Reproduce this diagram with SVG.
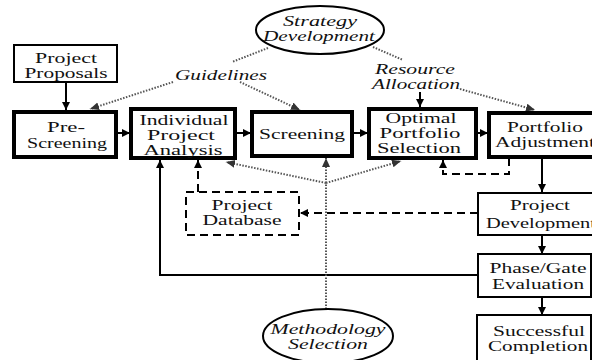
<svg xmlns="http://www.w3.org/2000/svg" width="592" height="360" viewBox="0 0 592 360">
<defs>
<marker id="ah" markerUnits="userSpaceOnUse" markerWidth="9" markerHeight="9" refX="8" refY="4" orient="auto"><path d="M0,0 L8,4 L0,8 z" fill="#000"/></marker>
<marker id="ahd" markerUnits="userSpaceOnUse" markerWidth="10" markerHeight="10" refX="9" refY="4" orient="auto"><path d="M0,0 L9,4 L0,8 z" fill="#333"/></marker>
<style>
text{font-family:"Liberation Serif","Times New Roman",serif;font-size:15px;fill:#111;text-anchor:middle}
.it{font-style:italic}
.st{text-anchor:start}
.box{fill:#fff;stroke:#000;stroke-width:2}
.main{fill:#fff;stroke:#000;stroke-width:4}
.dbox{fill:#fff;stroke:#000;stroke-width:2;stroke-dasharray:8 5}
.ell{fill:#fff;stroke:#000;stroke-width:2}
.sol{fill:none;stroke:#000;stroke-width:2}
.dsh{fill:none;stroke:#000;stroke-width:2;stroke-dasharray:8 5}
.dot{fill:none;stroke:#555;stroke-width:2;stroke-dasharray:1.5 1.5}
</style>
</defs>
<rect width="592" height="360" fill="#fff"/>

<g id="connectors">
<line class="sol" x1="66" y1="83" x2="66" y2="110" marker-end="url(#ah)"/>
<line class="sol" x1="117" y1="133" x2="130" y2="133" marker-end="url(#ah)"/>
<line class="sol" x1="235" y1="133" x2="251" y2="133" marker-end="url(#ah)"/>
<line class="sol" x1="353" y1="133" x2="368" y2="133" marker-end="url(#ah)"/>
<line class="sol" x1="476" y1="133" x2="488" y2="133" marker-end="url(#ah)"/>
<line class="sol" x1="542" y1="158" x2="542" y2="192" marker-end="url(#ah)"/>
<line class="sol" x1="542" y1="235" x2="542" y2="254" marker-end="url(#ah)"/>
<line class="sol" x1="542" y1="297" x2="542" y2="315" marker-end="url(#ah)"/>
<polyline class="sol" points="478,275 160,275 160,160" marker-end="url(#ah)"/>
<line class="sol" x1="420" y1="92" x2="420" y2="107" marker-end="url(#ah)"/>
<polyline class="dsh" points="509,158 509,174 443,174 443,160" marker-end="url(#ah)"/>
<line class="dsh" x1="478" y1="213" x2="300" y2="213" marker-end="url(#ah)"/>
<line class="dsh" x1="198" y1="192" x2="198" y2="160" marker-end="url(#ah)"/>
<line class="dot" x1="268" y1="48" x2="232" y2="62"/>
<line class="dot" x1="173" y1="82" x2="90" y2="109" marker-end="url(#ahd)"/>
<line class="dot" x1="240" y1="82" x2="300" y2="110" marker-end="url(#ahd)"/>
<line class="dot" x1="373" y1="47" x2="403" y2="60"/>
<line class="dot" x1="460" y1="89" x2="535" y2="110" marker-end="url(#ahd)"/>
<line class="dot" x1="326" y1="309" x2="326" y2="158" marker-end="url(#ahd)"/>
<line class="dot" x1="326" y1="183" x2="226" y2="162" marker-end="url(#ahd)"/>
<line class="dot" x1="326" y1="183" x2="401" y2="161" marker-end="url(#ahd)"/>
</g>

<g id="project-proposals">
<rect class="box" x="14" y="45" width="103" height="37"/>
<text x="66" y="63" textLength="62" lengthAdjust="spacingAndGlyphs">Project</text>
<text x="66" y="78" textLength="83" lengthAdjust="spacingAndGlyphs">Proposals</text>
</g>

<g id="pre-screening">
<rect class="main" x="14" y="112" width="102" height="45"/>
<text x="66" y="132" textLength="38" lengthAdjust="spacingAndGlyphs">Pre-</text>
<text x="67" y="148" textLength="80" lengthAdjust="spacingAndGlyphs">Screening</text>
</g>

<g id="individual-project-analysis">
<rect class="main" x="131" y="109" width="104" height="49"/>
<text x="184" y="125" textLength="89" lengthAdjust="spacingAndGlyphs">Individual</text>
<text x="181" y="140" textLength="68" lengthAdjust="spacingAndGlyphs">Project</text>
<text x="183" y="155" textLength="79" lengthAdjust="spacingAndGlyphs">Analysis</text>
</g>

<g id="screening">
<rect class="main" x="252" y="112" width="100" height="44"/>
<text x="302" y="139" textLength="86" lengthAdjust="spacingAndGlyphs">Screening</text>
</g>

<g id="optimal-portfolio-selection">
<rect class="main" x="369" y="109" width="107" height="49"/>
<text x="421" y="123" textLength="71" lengthAdjust="spacingAndGlyphs">Optimal</text>
<text x="420" y="138" textLength="81" lengthAdjust="spacingAndGlyphs">Portfolio</text>
<text x="419" y="153" textLength="84" lengthAdjust="spacingAndGlyphs">Selection</text>
</g>

<g id="portfolio-adjustment">
<rect class="main" x="489" y="113" width="115" height="44"/>
<text x="545" y="132" textLength="76" lengthAdjust="spacingAndGlyphs">Portfolio</text>
<text class="st" x="495" y="147" textLength="100" lengthAdjust="spacingAndGlyphs">Adjustment</text>
</g>

<g id="project-development">
<rect class="box" x="478" y="193" width="126" height="42"/>
<text x="540" y="210" textLength="60" lengthAdjust="spacingAndGlyphs">Project</text>
<text class="st" x="486" y="228" textLength="110" lengthAdjust="spacingAndGlyphs">Development</text>
</g>

<g id="phase-gate-evaluation">
<rect class="box" x="478" y="254" width="113" height="43"/>
<text x="538" y="273" textLength="97" lengthAdjust="spacingAndGlyphs">Phase/Gate</text>
<text x="538" y="289" textLength="92" lengthAdjust="spacingAndGlyphs">Evaluation</text>
</g>

<g id="successful-completion">
<rect class="box" x="477" y="315" width="114" height="48"/>
<text x="539" y="336" textLength="92" lengthAdjust="spacingAndGlyphs">Successful</text>
<text x="538" y="351" textLength="100" lengthAdjust="spacingAndGlyphs">Completion</text>
</g>

<g id="project-database">
<rect class="dbox" x="186" y="192" width="113" height="43"/>
<text x="242" y="210" textLength="61" lengthAdjust="spacingAndGlyphs">Project</text>
<text x="242" y="225" textLength="79" lengthAdjust="spacingAndGlyphs">Database</text>
</g>

<g id="strategy-development">
<ellipse class="ell" cx="320" cy="30" rx="64" ry="24"/>
<text class="it" x="320" y="26" textLength="74" lengthAdjust="spacingAndGlyphs">Strategy</text>
<text class="it" x="319" y="41" textLength="112" lengthAdjust="spacingAndGlyphs">Development</text>
</g>

<g id="methodology-selection">
<ellipse class="ell" cx="328" cy="336" rx="65" ry="27"/>
<text class="it" x="328" y="334" textLength="115" lengthAdjust="spacingAndGlyphs">Methodology</text>
<text class="it" x="328" y="349" textLength="80" lengthAdjust="spacingAndGlyphs">Selection</text>
</g>

<g id="labels">
<text class="it" x="221" y="80" textLength="92" lengthAdjust="spacingAndGlyphs">Guidelines</text>
<text class="it" x="415" y="74" textLength="80" lengthAdjust="spacingAndGlyphs">Resource</text>
<text class="it" x="416" y="89" textLength="88" lengthAdjust="spacingAndGlyphs">Allocation</text>
</g>
</svg>
